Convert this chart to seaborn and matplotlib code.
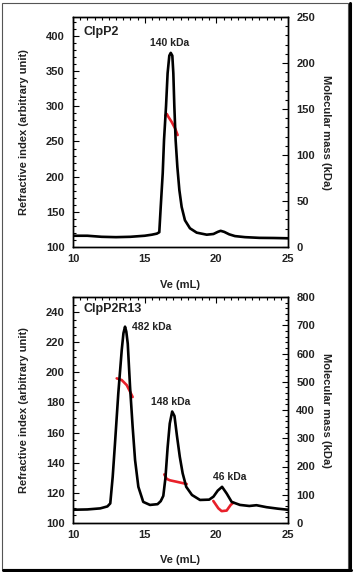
import numpy as np
import pandas as pd
import matplotlib
matplotlib.use("Agg")
import matplotlib.pyplot as plt
from matplotlib.ticker import MultipleLocator
from matplotlib.patches import Rectangle
from matplotlib.lines import Line2D
import seaborn as sns

# ---------------- data ----------------
# Panel A: ClpP2 refractive index trace
ve_a = [10.0, 11.0, 12.0, 13.0, 14.0, 15.0, 15.5, 15.85, 16.02, 16.12, 16.26, 16.35, 16.49,
        16.6, 16.72, 16.82, 16.93, 17.0, 17.07, 17.16, 17.28, 17.42, 17.58, 17.81, 18.16,
        18.63, 19.33, 19.8, 20.1, 20.3, 20.55, 20.9, 21.3, 22.0, 23.0, 24.0, 25.0]
ri_a = [116, 116, 114.5, 114, 114.5, 116, 117.5, 119, 121, 157, 205, 252, 300,
        347, 372, 376, 372, 347, 300, 252, 214, 181, 157, 138, 126.6,
        120.4, 117.5, 118.5, 121.5, 123, 121.5, 118, 115.5, 114, 113, 112.8, 112.4]
# Panel A: molecular mass (kDa)
ve_ma = [16.45, 16.55, 16.65, 16.88, 17.12, 17.3]
mm_a = [143, 144.5, 141.6, 136, 129, 121.7]

# Panel B: ClpP2R13 refractive index trace
ve_b = [10.0, 11.0, 11.9, 12.4, 12.6, 12.77, 12.93, 13.16, 13.4, 13.52, 13.63, 13.72, 13.82,
        13.98, 14.16, 14.33, 14.56, 14.9, 15.37, 15.9, 16.12, 16.3, 16.45, 16.6, 16.75, 16.92,
        17.08, 17.25, 17.45, 17.65, 17.9, 18.3, 18.86, 19.5, 19.8, 20.1, 20.4, 20.72, 21.07,
        21.65, 22.3, 22.8, 23.5, 24.3, 25.0]
ri_b = [108.8, 109, 109.7, 111, 113, 130.7, 152.9, 186, 214.8, 226, 230.3, 227, 219,
        190.4, 164, 141.8, 124, 114, 112, 112.5, 114.5, 118, 130, 150, 166, 174,
        171, 158, 144, 133, 124, 118.6, 115.3, 115.5, 117.5, 121.5, 124, 119.6, 114,
        112, 111.3, 111.8, 110.5, 109.5, 108.8]
# Panel B: molecular mass (kDa) segments
ve_m1 = [13.05, 13.4, 13.75, 13.98, 14.16]
mm_m1 = [512, 506, 488, 465, 446]
ve_m2 = [16.37, 16.54, 16.77, 17.23, 17.93]
mm_m2 = [172, 156, 151, 146, 138]
ve_m3 = [19.79, 20.14, 20.37, 20.72, 21.0, 21.19]
mm_m3 = [78, 52, 42, 44, 64, 72]

title_a = "ClpP2"
title_b = "ClpP2R13"
peak_labels_a = ["140 kDa"]
peak_pos_a = [(16.77, 390)]
peak_labels_b = ["482 kDa", "148 kDa", "46 kDa"]
peak_pos_b = [(15.5, 230), (16.85, 180), (20.95, 130.5)]

# ---------------- style ----------------
sns.set_style("white")
plt.rcParams["font.family"] = ["Liberation Sans", "DejaVu Sans"]
plt.rcParams["font.weight"] = "bold"
plt.rcParams["axes.labelweight"] = "bold"
TXT = "#222222"
LW = 1.9

fig = plt.figure(figsize=(3.53, 5.72), dpi=100)
W, H = 353, 572

def axes_rect(l, t, r, b):
    return [l / W, 1 - b / H, (r - l) / W, (b - t) / H]

ax_a = fig.add_axes(axes_rect(73, 17, 288, 247))
ax_b = fig.add_axes(axes_rect(73, 297, 288, 523))

def style_axis(ax, ax2, ylim, ymaj, ymin, y2lim, y2maj, y2min):
    ax.set_xlim(10, 25)
    ax.set_ylim(*ylim)
    ax2.set_ylim(*y2lim)
    ax.xaxis.set_major_locator(MultipleLocator(5))
    ax.xaxis.set_minor_locator(MultipleLocator(0.5))
    ax.yaxis.set_major_locator(MultipleLocator(ymaj))
    ax.yaxis.set_minor_locator(MultipleLocator(ymin))
    ax2.yaxis.set_major_locator(MultipleLocator(y2maj))
    ax2.yaxis.set_minor_locator(MultipleLocator(y2min))
    ax.tick_params(axis="both", which="both", direction="in", colors="black",
                   labelcolor=TXT, labelsize=8, width=0.8)
    ax.tick_params(axis="x", which="both", top=True)
    ax.tick_params(axis="x", which="major", length=4, pad=5)
    ax.tick_params(axis="y", which="major", length=4, pad=6)
    ax.tick_params(which="minor", length=2)
    ax2.tick_params(axis="y", which="both", direction="in", colors="black",
                    labelcolor=TXT, labelsize=8, width=0.8, pad=6)
    ax2.tick_params(axis="y", which="major", length=4)
    ax2.tick_params(axis="y", which="minor", length=2)
    for a in (ax, ax2):
        for s in a.spines.values():
            s.set_color("black")
            s.set_linewidth(1.0)
            s.set_visible(True)
    ax.set_xlabel("Ve (mL)", fontsize=8, color=TXT, fontweight="bold")
    ax.set_ylabel("Refractive index (arbitrary unit)", fontsize=8, color=TXT, fontweight="bold")
    ax2.set_ylabel("Molecular mass (kDa)", fontsize=8, color=TXT, fontweight="bold",
                   rotation=270)
    ax.yaxis.set_label_coords(-0.205, 0.5)
    ax2.yaxis.set_label_coords(1.2, 0.5)

# ---- panel A ----
df_a = pd.DataFrame({"Ve": ve_a, "RI": ri_a})
sns.lineplot(data=df_a, x="Ve", y="RI", ax=ax_a, color="black", linewidth=LW,
             sort=False, estimator=None)
ax2_a = ax_a.twinx()
df_ma = pd.DataFrame({"Ve": ve_ma, "MM": mm_a})
sns.lineplot(data=df_ma, x="Ve", y="MM", ax=ax2_a, color="#e8202a", linewidth=LW,
             sort=False, estimator=None)
style_axis(ax_a, ax2_a, (100, 427), 50, 10, (0, 250), 50, 10)
ax_a.xaxis.set_label_coords(0.5, -0.145)
ax_a.text(0.05, 0.935, title_a, transform=ax_a.transAxes, fontsize=9, fontweight="bold",
          color=TXT, ha="left", va="center")
for lab, (x, y) in zip(peak_labels_a, peak_pos_a):
    ax_a.text(x, y, lab, fontsize=7.5, fontweight="bold", color=TXT, ha="center", va="center")

# ---- panel B ----
df_b = pd.DataFrame({"Ve": ve_b, "RI": ri_b})
sns.lineplot(data=df_b, x="Ve", y="RI", ax=ax_b, color="black", linewidth=LW,
             sort=False, estimator=None)
ax2_b = ax_b.twinx()
for vx, vm in ((ve_m1, mm_m1), (ve_m2, mm_m2), (ve_m3, mm_m3)):
    sns.lineplot(x=vx, y=vm, ax=ax2_b, color="#e8202a", linewidth=LW,
                 sort=False, estimator=None)
style_axis(ax_b, ax2_b, (100, 250), 20, 5, (0, 800), 100, 20)
ax_b.xaxis.set_label_coords(0.5, -0.14)
ax_b.text(0.05, 0.947, title_b, transform=ax_b.transAxes, fontsize=9, fontweight="bold",
          color=TXT, ha="left", va="center")
for lab, (x, y) in zip(peak_labels_b, peak_pos_b):
    ax_b.text(x, y, lab, fontsize=7.5, fontweight="bold", color=TXT, ha="center", va="center")

for ax in (ax_a, ax_b):
    ax.set_zorder(2)
    ax.patch.set_visible(False)

# ---- outer frame ----
fig.patches.append(Rectangle((2 / W, 3 / H), 346 / W, 566 / H, transform=fig.transFigure,
                             fill=False, edgecolor="#555555", linewidth=0.8))
fig.lines.append(Line2D([349.5 / W, 349.5 / W], [4 / H, 1 - 3 / H], transform=fig.transFigure,
                        color="black", linewidth=2.2))
fig.lines.append(Line2D([3 / W, 350.5 / W], [2.2 / H, 2.2 / H], transform=fig.transFigure,
                        color="black", linewidth=2.2))

fig.savefig("out.png", dpi=100, facecolor="white")
